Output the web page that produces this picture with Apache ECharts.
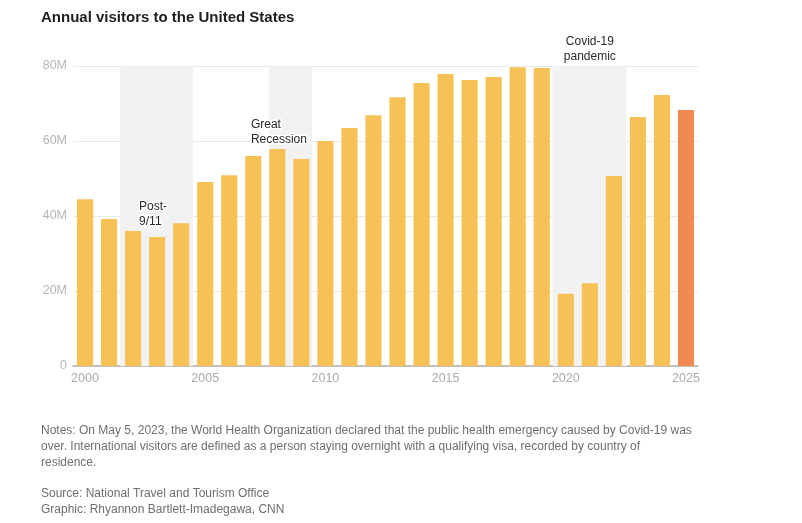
<!DOCTYPE html>
<html>
<head>
<meta charset="utf-8">
<script src="https://cdn.jsdelivr.net/npm/echarts@6/dist/echarts.min.js"></script>
<style>
html,body{margin:0;padding:0;background:#fff;}
#chart{width:802px;height:523px;}
</style>
</head>
<body>
<div id="chart"></div>
<script>
// ---- data ----
const years = ['2000','2001','2002','2003','2004','2005','2006','2007','2008','2009','2010','2011','2012','2013','2014','2015','2016','2017','2018','2019','2020','2021','2022','2023','2024','2025'];
const visitorsM = [44.5, 39.2, 36.0, 34.4, 38.1, 49.1, 50.9, 56.0, 57.9, 55.2, 60.0, 63.5, 66.9, 71.7, 75.5, 77.9, 76.3, 77.1, 79.7, 79.5, 19.3, 22.1, 50.7, 66.4, 72.3, 68.3];
const highlightYears = ['2025'];
const yTicks = [0, 20, 40, 60, 80];
// shaded periods (in continuous year units) and their labels
const periods = [
  { name: 'Post-\n9/11', from: 2001.46, to: 2004.49, labelX: 2002.25, labelY: 40.4 },
  { name: 'Great\nRecession', from: 2007.65, to: 2009.44, labelX: 2006.9, labelY: 62.4 },
  { name: 'Covid-19\npandemic', from: 2019.45, to: 2022.52, labelX: 2021.0, labelY: 80 }
];
const title = 'Annual visitors to the United States';
const notes = [
  'Notes: On May 5, 2023, the World Health Organization declared that the public health emergency caused by Covid-19 was',
  'over. International visitors are defined as a person staying overnight with a qualifying visa, recorded by country of',
  'residence.'
];
const credits = [
  'Source: National Travel and Tourism Office',
  'Graphic: Rhyannon Bartlett-Imadegawa, CNN'
];

// ---- chart ----
const FONT = '"Liberation Sans", Arial, Helvetica, sans-serif';
const chart = echarts.init(document.getElementById('chart'), null, { renderer: 'canvas' });

const graphics = [
  { type: 'text', left: 41, top: 10, style: { text: title, font: 'bold 15px ' + FONT, fill: '#1e1e1e' } }
];
notes.forEach((t, i) => graphics.push({ type: 'text', x: 41, y: 431 + i * 16, style: { text: t, font: '12px ' + FONT, fill: '#6e6e6e', verticalAlign: 'middle' } }));
credits.forEach((t, i) => graphics.push({ type: 'text', x: 41, y: 494 + i * 16, style: { text: t, font: '12px ' + FONT, fill: '#6e6e6e', verticalAlign: 'middle' } }));

const option = {
  animation: false,
  backgroundColor: '#fff',
  grid: { left: 73, right: 104, top: 66, bottom: 157 },
  xAxis: [
    {
      type: 'category',
      data: years,
      boundaryGap: true,
      axisLine: { lineStyle: { color: '#b0b0b0', width: 1.5 } },
      axisTick: { show: false },
      axisLabel: { interval: 4, color: '#aaaaaa', fontSize: 12.5, fontFamily: FONT, margin: 6 },
      splitLine: { show: false }
    },
    {
      type: 'value',
      min: 1999.5,
      max: 2025.5,
      show: false
    }
  ],
  yAxis: {
    type: 'value',
    min: yTicks[0],
    max: yTicks[yTicks.length - 1],
    interval: 20,
    axisLine: { show: false },
    axisTick: { show: false },
    axisLabel: { color: '#b5b5b5', fontSize: 12.5, fontFamily: FONT, margin: 6,
      formatter: v => v === 0 ? '0' : v + 'M' },
    splitLine: { lineStyle: { color: '#e8e8e8', width: 1 } }
  },
  series: [
    {
      type: 'line',
      xAxisIndex: 1,
      data: [],
      silent: true,
      z: 1,
      markArea: {
        silent: true,
        itemStyle: { color: '#f2f2f2' },
        data: periods.map(p => [{ xAxis: p.from, yAxis: 0 }, { xAxis: p.to, yAxis: 80 }])
      }
    },
    {
      type: 'bar',
      data: visitorsM,
      barCategoryGap: '33%',
      z: 2,
      itemStyle: {
        color: p => highlightYears.includes(years[p.dataIndex]) ? '#f08a52' : '#f6c155'
      }
    },
    {
      type: 'line',
      xAxisIndex: 1,
      data: [],
      silent: true,
      z: 5,
      markPoint: {
        silent: true,
        symbol: 'circle',
        symbolSize: 0,
        data: periods.map((p, i) => ({
          coord: [p.labelX, p.labelY],
          label: {
            show: true,
            formatter: p.name,
            position: 'inside',
            align: i === 2 ? 'center' : 'left',
            verticalAlign: 'middle',
            offset: i === 2 ? [0, -16.5] : [0, 0],
            color: '#2a2a2a',
            fontSize: 12,
            lineHeight: 15,
            fontFamily: FONT,
            textBorderColor: '#fff',
            textBorderWidth: 3
          }
        }))
      }
    }
  ],
  graphic: graphics
};
chart.setOption(option);
</script>
</body>
</html>
